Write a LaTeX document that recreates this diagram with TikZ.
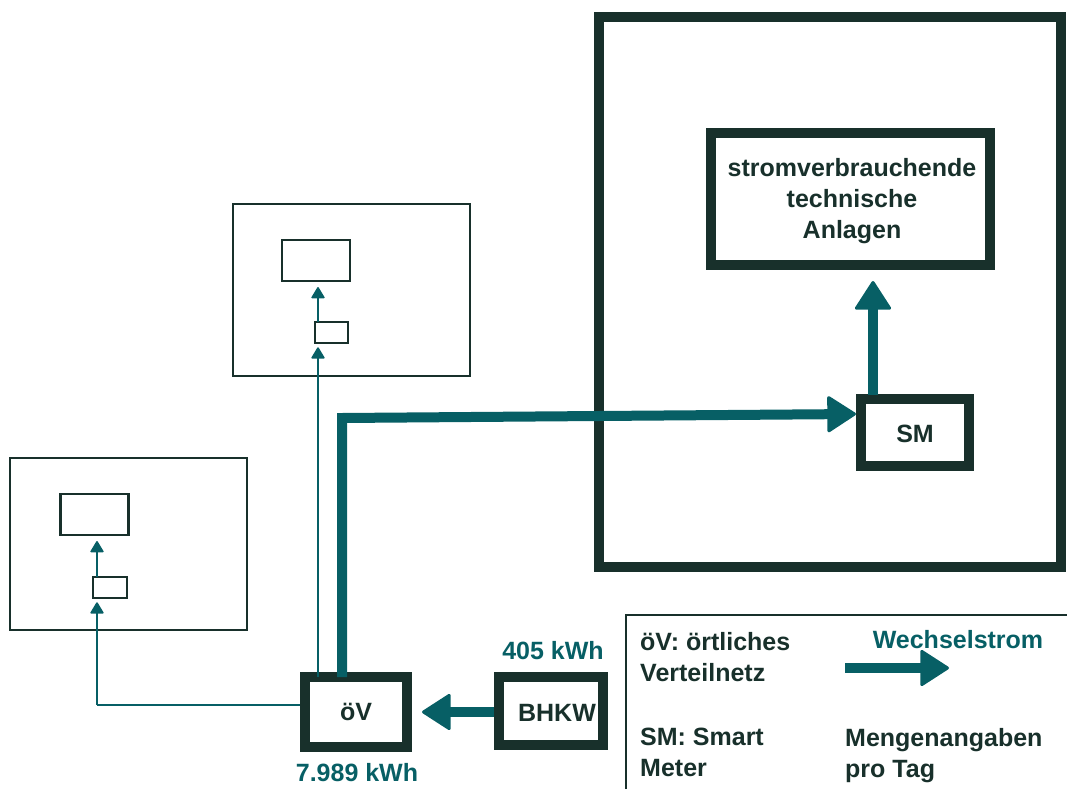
\documentclass[tikz,border=0pt]{standalone}
\usepackage{fontspec}
\setmainfont{Liberation Sans}
\usetikzlibrary{arrows.meta}
\definecolor{dk}{HTML}{18302B}
\definecolor{tl}{HTML}{075F65}
\tikzset{
  thickbox/.style={draw=dk, line width=10pt, minimum width=#1, inner sep=0pt},
  thinbox/.style={draw=dk, line width=2pt, inner sep=0pt},
  lbl/.style={font=\bfseries\fontsize{25}{31}\selectfont, text=dk, align=left, inner sep=0pt},
  tlbl/.style={font=\bfseries\fontsize{25}{31}\selectfont, text=tl, inner sep=0pt},
  bigarrow/.style={draw=tl, line width=10pt, -{Triangle[round, line width=3pt, length=30pt, width=38pt]}},
  thinarrow/.style={draw=tl, line width=2.5pt, -{Triangle[round, line width=1.5pt, length=12pt, width=14pt]}},
}
\begin{document}
\begin{tikzpicture}[x=1pt, y=-1pt]
\useasboundingbox (0,0) rectangle (1067,789);
% big container
\node[thickbox=462pt, minimum height=550pt] (big) at (830,292) {};
\node[thickbox=279pt, minimum height=132pt] (anl) at (850.5,199) {};
\node[lbl, align=center] (anltxt) at (852,201) {stromverbrauchende\\technische\\Anlagen};
\node[thickbox=108pt, minimum height=67pt] (sm) at (915,432.5) {};
\node[lbl] (smtxt) at (915,434) {SM};
% oeV and BHKW
\node[thickbox=102pt, minimum height=70pt] (ov) at (356,712) {};
\node[lbl] (ovtxt) at (356,712) {öV};
\node[thickbox=104pt, minimum height=68pt] (bhkw) at (551,711) {};
\node[lbl] (bhkwtxt) at (557,713) {BHKW};
\node[tlbl] (l405) at (553,651) {405 kWh};
\node[tlbl] (l7989) at (357,773) {7.989 kWh};
% small houses
\node[thinbox, minimum width=237pt, minimum height=172pt] (h1) at (351.5,290) {};
\node[thinbox, line width=2.5pt, minimum width=68pt, minimum height=41pt] (i1) at (316,260.5) {};
\node[thinbox, line width=2.5pt, minimum width=33pt, minimum height=21pt] (m1) at (331.5,332.5) {};
\node[thinbox, minimum width=237pt, minimum height=172pt] (h2) at (128.5,544) {};
\node[thinbox, line width=2.5pt, minimum width=68pt, minimum height=41pt] (i2) at (94.5,514.5) {};
\node[thinbox, line width=2.5pt, minimum width=34pt, minimum height=21pt] (m2) at (110,587.5) {};
% thin connectors
\coordinate (c1) at (318,677);
\coordinate (c2) at (97,705);
\draw[thinarrow, shorten >=3pt] (c1) -- (c1 |- m1.south);
\draw[thinarrow, shorten >=3pt] (318,322) -- (318,284);
\draw[draw=tl, line width=2.5pt] (ov.west |- c2) -- (c2);
\draw[thinarrow, shorten >=3pt] (c2) -- (c2 |- m2.south);
\draw[thinarrow, shorten >=3pt] (97,577) -- (97,538);
% main connectors
\coordinate (k1) at (342,677);
\coordinate (k2) at (342,418);
\coordinate (k3) at (856,414);
\draw[bigarrow, line join=miter] (k1) -- (k2) -- (k3);
\coordinate (s1) at (873,395);
\coordinate (s2) at (873,281);
\draw[bigarrow] (s1) -- (s2);
\coordinate (b2) at (422,712);
\draw[bigarrow] (bhkw.west |- b2) -- (b2);
% legend
\coordinate (lg1) at (626,789);
\coordinate (lg2) at (626,615);
\coordinate (lg3) at (1067,615);
\draw[dk, line width=2pt] (lg1) -- (lg2) -- (lg3);
\node[lbl, anchor=west] (leg1) at (640,657) {öV: örtliches\\Verteilnetz};
\node[lbl, anchor=west] (leg2) at (640,752) {SM: Smart\\Meter};
\node[tlbl] (legw) at (958,640) {Wechselstrom};
\coordinate (la1) at (845,668);
\coordinate (la2) at (949,668);
\draw[bigarrow] (la1) -- (la2);
\node[lbl, anchor=west] (leg3) at (845,756) {Mengenangaben\\pro Tag};
\end{tikzpicture}
\end{document}
